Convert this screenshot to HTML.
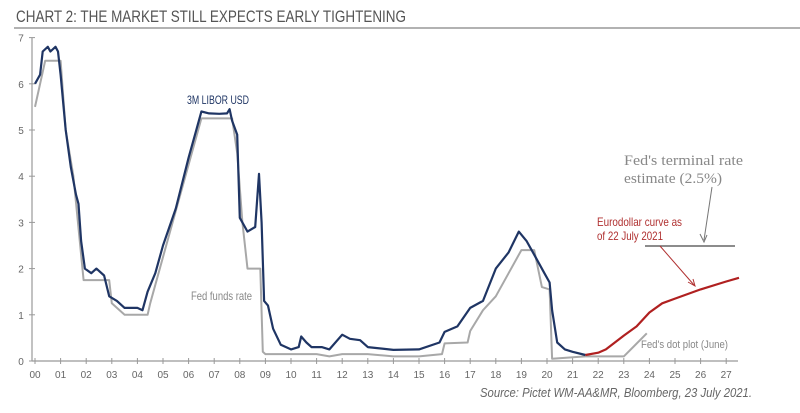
<!DOCTYPE html>
<html><head><meta charset="utf-8"><style>
body{margin:0;background:#fff;width:800px;height:413px;overflow:hidden;font-family:"Liberation Sans",sans-serif}
svg{display:block}
</style></head><body>
<svg id="chart" width="800" height="413">
<text x="16" y="22" font-size="17" fill="#555" textLength="390" lengthAdjust="spacingAndGlyphs">CHART 2: THE MARKET STILL EXPECTS EARLY TIGHTENING</text>
<line x1="14" y1="28" x2="800" y2="28" stroke="#999" stroke-width="1.5"/>
<g id="axes"></g>
<g id="series"></g>
<line x1="645" y1="246" x2="735" y2="246" stroke="#666" stroke-width="1.5" id="termline"/>
<line x1="712" y1="187" x2="704" y2="240" stroke="#777" stroke-width="1"/>
<path d="M700,234 L704,242 L707,235" fill="none" stroke="#777"/>
<text x="624" y="165" font-size="15" fill="#888" font-family="Liberation Serif,serif" textLength="119" lengthAdjust="spacingAndGlyphs">Fed's terminal rate</text>
<text x="624" y="183" font-size="15" fill="#888" font-family="Liberation Serif,serif" textLength="98" lengthAdjust="spacingAndGlyphs">estimate (2.5%)</text>
<text x="597" y="226" font-size="12" fill="#b03030" textLength="85" lengthAdjust="spacingAndGlyphs">Eurodollar curve as</text>
<text x="597" y="240" font-size="12" fill="#b03030" textLength="66" lengthAdjust="spacingAndGlyphs">of 22 July 2021</text>
<line x1="660" y1="246" x2="694" y2="285" stroke="#b03030" stroke-width="1"/>
<path d="M688,282 L695,286 L693,279" fill="none" stroke="#b03030"/>
<text x="187" y="104" font-size="12" fill="#1f3564" textLength="62" lengthAdjust="spacingAndGlyphs">3M LIBOR USD</text>
<text x="191" y="300" font-size="12" fill="#888" textLength="61" lengthAdjust="spacingAndGlyphs">Fed funds rate</text>
<text x="641" y="348" font-size="11" fill="#888" textLength="87" lengthAdjust="spacingAndGlyphs">Fed's dot plot (June)</text>
<text x="752" y="397" font-size="13" fill="#666" font-style="italic" text-anchor="end" textLength="272" lengthAdjust="spacingAndGlyphs">Source: Pictet WM-AA&amp;MR, Bloomberg, 23 July 2021.</text>
</svg>
<script>
const yTicks=[0,1,2,3,4,5,6,7];
const xTickLabels=["00","01","02","03","04","05","06","07","08","09","10","11","12","13","14","15","16","17","18","19","20","21","22","23","24","25","26","27"];
const liborT=[2000,2000.2,2000.3,2000.5,2000.6,2000.8,2000.9,2001,2001.2,2001.4,2001.6,2001.7,2001.8,2001.95,2002.2,2002.4,2002.7,2002.9,2003.2,2003.5,2003.8,2004,2004.2,2004.4,2004.7,2005,2005.5,2006,2006.3,2006.5,2006.8,2007.2,2007.5,2007.6,2007.7,2007.9,2008,2008.3,2008.6,2008.75,2008.85,2008.95,2009.1,2009.3,2009.6,2010,2010.3,2010.4,2010.6,2010.8,2011.2,2011.5,2012,2012.3,2012.7,2013,2014,2015,2015.8,2016,2016.5,2017,2017.5,2018,2018.5,2018.9,2019.2,2019.5,2019.9,2020.1,2020.2,2020.4,2020.7,2021,2021.5];
const liborV=[6.0,6.2,6.7,6.8,6.7,6.8,6.7,6.2,5.0,4.2,3.6,3.4,2.6,2.0,1.9,2.0,1.85,1.4,1.3,1.15,1.15,1.15,1.1,1.5,1.9,2.5,3.3,4.4,5.0,5.4,5.36,5.35,5.36,5.45,5.2,4.9,3.1,2.8,2.9,4.05,3.0,1.3,1.2,0.7,0.35,0.25,0.3,0.53,0.4,0.3,0.3,0.25,0.57,0.48,0.45,0.3,0.24,0.25,0.4,0.63,0.75,1.15,1.3,2.0,2.35,2.8,2.6,2.3,1.9,1.7,1.1,0.4,0.25,0.2,0.13];
const ffT=[2000,2000.4,2001,2001.2,2001.5,2001.9,2002.9,2003,2003.5,2004.4,2004.5,2006.5,2007.7,2007.9,2008.1,2008.3,2008.8,2008.9,2009,2010,2011,2011.5,2012,2013,2014,2015,2015.9,2016,2016.9,2017,2017.5,2018,2018.5,2019,2019.5,2019.8,2020.1,2020.2,2021.5];
const ffV=[5.5,6.5,6.5,5.0,4.0,1.75,1.75,1.25,1.0,1.0,1.25,5.25,5.25,4.5,3.0,2.0,2.0,0.2,0.15,0.15,0.15,0.1,0.15,0.15,0.1,0.1,0.15,0.38,0.4,0.65,1.1,1.4,1.9,2.4,2.4,1.6,1.55,0.05,0.1];
const dotT=[2021.5,2023,2023.9];
const dotV=[0.1,0.1,0.6];
const edT=[2021.5,2022,2022.3,2023,2023.5,2024,2024.5,2025,2026,2027,2027.5];
const edV=[0.13,0.18,0.25,0.55,0.75,1.05,1.25,1.35,1.55,1.72,1.8];
const X=t=>35+(t-2000)*25.6, Y=v=>361-v*46.2;
const NS="http://www.w3.org/2000/svg";
const ax=document.getElementById('axes'), se=document.getElementById('series');
function mk(tag,attrs,parent){const e=document.createElementNS(NS,tag);for(const k in attrs)e.setAttribute(k,attrs[k]);parent.appendChild(e);return e;}
let l=mk('line',{x1:32,y1:Y(7),x2:32,y2:361,stroke:'#999','stroke-width':1.2},ax);


l=mk('line',{x1:32,y1:361,x2:738,y2:361,stroke:'#999','stroke-width':1.2},ax);


yTicks.forEach(v=>{
 const tk=mk('line',{x1:29,x2:35,y1:Y(v),y2:Y(v),stroke:'#999'},ax);
 
 
 const t=mk('text',{x:21,y:Y(v)+4,'font-size':10,fill:'#666','text-anchor':'middle'},ax);t.textContent=v;
 
 
});
xTickLabels.forEach((s,i)=>{
 const x=X(2000+i);
 const tk=mk('line',{x1:x,x2:x,y1:358,y2:364,stroke:'#999'},ax);
 
 
 const t=mk('text',{x:x,y:378,'font-size':10,fill:'#666','text-anchor':'middle'},ax);t.textContent=s;
 
 
});
function line(ts,vs,color,w,name){
 const d=ts.map((t,i)=>(i?'L':'M')+X(t).toFixed(1)+','+Y(vs[i]).toFixed(1)).join(' ');
 const p=mk('path',{d:d,fill:'none',stroke:color,'stroke-width':w,'stroke-linejoin':'round'},se);
 
 
}
line(ffT,ffV,'#a8a8a8',2,'fed-funds-line');
line(dotT,dotV,'#a8a8a8',2,'dot-plot-line');
line(liborT,liborV,'#1f3564',2.2,'libor-line');
line(edT,edV,'#b02020',2.2,'eurodollar-line');
</script>
</body></html>
